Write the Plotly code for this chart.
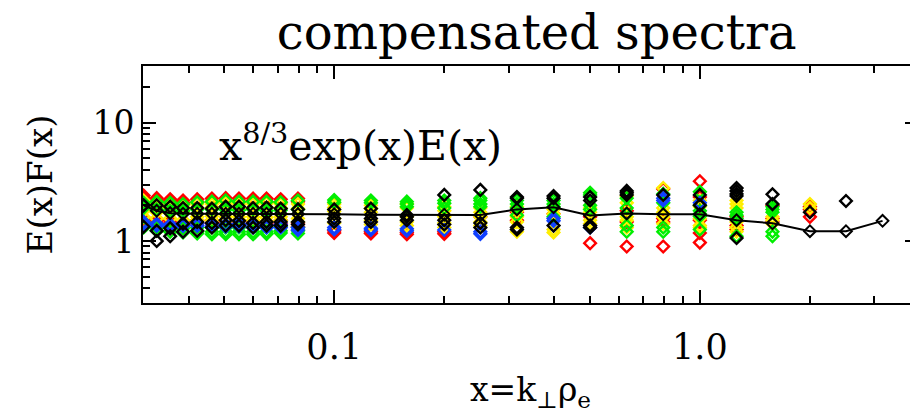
import plotly.graph_objects as go
import math

x_cols = [0.0301, 0.0327, 0.0356, 0.0386, 0.0422, 0.0463, 0.0505, 0.0549, 0.0600, 0.0653,
          0.0714, 0.0796, 0.100, 0.126, 0.158, 0.200, 0.251, 0.316, 0.398, 0.501,
          0.631, 0.794, 1.00, 1.26, 1.58, 2.00, 2.51, 3.16]

median_line = [2.0, 1.8, 1.72, 1.70, 1.70, 1.70, 1.70, 1.70, 1.70, 1.70,
               1.70, 1.69, 1.68, 1.67, 1.67, 1.67, 1.66, 1.85, 1.93, 1.64,
               1.71, 1.68, 1.68, 1.50, 1.41, 1.21, 1.21, 1.48]

red_vals = [
    [2.42, 2.3, 1.55], [2.3, 2.2, 1.5, 1.42], [2.25, 2.15, 1.48, 1.4], [2.2, 2.1, 1.45, 1.38],
    [2.25, 2.12, 1.5, 1.4], [2.28, 2.15, 1.5, 1.42], [2.3, 2.18, 1.46, 1.38], [2.28, 2.15, 1.5, 1.4],
    [2.28, 2.18, 1.48, 1.4], [2.28, 2.15, 1.45, 1.38], [2.25, 2.12, 1.5, 1.4], [2.28, 2.15, 1.42, 1.32],
    [1.22, 1.17], [1.2, 1.16], [1.18, 1.14], [1.2, 1.15],
    [1.6], [1.75, 1.5], [1.7], [1.6, 0.96],
    [1.8, 1.45, 0.9], [2.75, 1.55, 1.45, 0.9], [3.2, 2.35, 1.5, 1.17, 0.97], [1.6, 1.35, 1.25],
    [2.0, 1.55, 1.45], [1.95, 1.85, 1.6], [], [],
]

yellow_vals = [
    [2.2, 2.05, 1.8, 1.6], [2.1, 1.95, 1.75, 1.55], [2.05, 1.9, 1.72, 1.55], [2.0, 1.88, 1.75, 1.5],
    [2.05, 1.9, 1.6, 1.5], [2.05, 1.92, 1.62, 1.5], [2.1, 1.95, 1.6, 1.48], [2.05, 1.88, 1.6, 1.5],
    [2.05, 1.9, 1.6, 1.5], [2.08, 1.92, 1.58, 1.46], [2.05, 1.9, 1.6, 1.5], [2.05, 1.88, 1.55, 1.45],
    [2.05, 1.92, 1.78, 1.55, 1.42], [2.0, 1.88, 1.75, 1.5, 1.38], [2.05, 1.9, 1.6, 1.45, 1.35, 1.25],
    [1.95, 1.8, 1.6, 1.42, 1.3],
    [1.9, 1.75, 1.6, 1.45, 1.35], [1.95, 1.8, 1.6, 1.45, 1.2], [1.85, 1.7, 1.25, 1.18], [1.9, 1.75, 1.5, 1.4],
    [2.4, 2.1, 1.6, 1.5, 1.3], [2.8, 1.9, 1.75, 1.6, 1.4], [2.2, 1.95, 1.55, 1.35, 1.3],
    [2.2, 2.05, 1.9, 1.45, 1.3, 1.2],
    [1.6, 1.5, 1.4], [2.05, 1.9], [], [],
]

green_vals = [
    [2.1, 1.9, 1.45, 1.3], [2.15, 1.85, 1.3, 1.22], [2.1, 1.8, 1.3, 1.2], [2.05, 1.8, 1.28, 1.18],
    [2.12, 1.85, 1.3, 1.2, 1.16], [2.15, 1.85, 1.3, 1.2, 1.14], [2.2, 1.85, 1.3, 1.2, 1.14],
    [2.15, 1.82, 1.3, 1.2, 1.14], [2.15, 1.85, 1.32, 1.2, 1.14], [2.15, 1.8, 1.3, 1.2, 1.15],
    [2.12, 1.82, 1.32, 1.22, 1.17], [2.2, 1.85, 1.3, 1.22, 1.16],
    [2.22, 2.12], [2.2, 2.1], [2.15, 2.05, 1.95], [2.2, 2.08, 1.9],
    [2.3, 2.2, 2.05, 1.95], [2.2, 2.05, 1.9, 1.65], [2.2, 2.05, 1.95, 1.6], [2.55, 2.45, 2.0, 1.85],
    [2.3, 1.9, 1.7, 1.35, 1.2], [2.5, 2.1, 1.3, 1.2], [2.6, 2.0, 1.8, 1.7, 1.62, 1.25],
    [1.75, 1.65, 1.55, 1.1],
    [1.95, 1.85, 1.75, 1.2, 1.1], [], [], [],
]

blue_vals = [
    [1.45, 1.38], [1.4, 1.35], [1.38, 1.32], [1.4, 1.34], [1.42, 1.35], [1.4, 1.33], [1.38, 1.32],
    [1.4, 1.33], [1.38, 1.3], [1.36, 1.3], [1.38, 1.3], [1.3, 1.24],
    [1.3, 1.25], [1.28, 1.24], [1.27, 1.22], [1.24],
    [1.2, 1.15], [], [1.55, 1.48], [1.3],
    [], [2.3, 2.2], [2.1], [],
    [], [], [], [],
]

black_vals = [
    [2.0, 1.32], [2.0, 1.22, 1.0], [1.95, 1.28, 1.1], [1.9, 1.4, 1.2], [1.9, 1.45, 1.22],
    [1.88, 1.42, 1.3], [1.95, 1.5, 1.35], [1.95, 1.48, 1.35], [1.9, 1.42, 1.3], [1.92, 1.45, 1.35],
    [1.88, 1.45, 1.35], [1.85, 1.45, 1.38],
    [1.85, 1.55, 1.45], [1.88, 1.55, 1.45], [1.6, 1.5], [2.45, 1.5, 1.38],
    [2.7, 1.42, 1.3], [2.35, 2.3, 1.3, 1.25], [2.4, 2.3, 1.35], [2.35, 2.2, 1.35, 1.3],
    [2.65, 2.55, 2.45], [2.45], [2.45, 2.0], [2.8, 2.65, 2.5, 2.4, 1.06],
    [2.48, 2.05], [1.75], [2.18], [],
]

x_tick_vals = [0.1, 1.0]
x_tick_text = ["0.1", "1.0"]
y_tick_vals = [1, 10]
y_tick_text = ["1", "10"]
x_minor = [0.03, 0.04, 0.05, 0.06, 0.07, 0.08, 0.09, 0.2, 0.3, 0.4, 0.5, 0.6, 0.7, 0.8, 0.9, 2, 3]
y_minor = [0.3, 0.4, 0.5, 0.6, 0.7, 0.8, 0.9, 2, 3, 4, 5, 6, 7, 8, 9, 20, 30]

series = [
    ("red", red_vals, "#ff0000"),
    ("yellow", yellow_vals, "#ffee00"),
    ("green", green_vals, "#00ee00"),
    ("blue", blue_vals, "#1040ff"),
    ("black", black_vals, "#000000"),
]

fig = go.Figure()
for name, vals, col in series:
    xs, ys = [], []
    for xc, vs in zip(x_cols, vals):
        for v in vs:
            xs.append(xc)
            ys.append(v)
    fig.add_trace(go.Scatter(x=xs, y=ys, mode="markers", name=name,
                             marker=dict(symbol="diamond-open", size=9, color=col,
                                         line=dict(width=2.4, color=col))))

fig.add_trace(go.Scatter(x=x_cols, y=median_line, mode="lines+markers", name="median",
                         line=dict(color="black", width=2),
                         marker=dict(symbol="diamond-open", size=9, color="black",
                                     line=dict(width=2, color="black"))))

serif = "DejaVu Serif"
# page body has an 8px margin, so the figure is 8px smaller and margins shifted by 8
fig.update_layout(
    width=910, height=405,
    margin=dict(l=135, r=0, t=58, b=110, autoexpand=False),
    paper_bgcolor="white", plot_bgcolor="white",
    showlegend=False,
    font=dict(family=serif, color="black"),
    title=dict(text="compensated spectra", x=0.508, xanchor="center", y=0.94, yanchor="middle",
               xref="paper", yref="container",
               font=dict(family=serif, size=48, color="black")),
    annotations=[dict(text="x<sup>8/3</sup>exp(x)E(x)", xref="paper", yref="paper",
                      x=0.095, y=0.675, xanchor="left", yanchor="middle", showarrow=False,
                      font=dict(family=serif, size=41, color="black"))],
)
fig.update_xaxes(
    type="log", range=[math.log10(0.03), math.log10(3.95)], automargin=False,
    showline=True, linecolor="black", linewidth=2, mirror="ticks",
    ticks="inside", ticklen=13, tickwidth=1.5, tickcolor="black",
    tickmode="array", tickvals=x_tick_vals, ticktext=x_tick_text,
    tickfont=dict(family=serif, size=35), showgrid=False, zeroline=False,
    ticklabelstandoff=12,
    minor=dict(tickmode="array", tickvals=x_minor, ticks="inside", ticklen=7,
               tickwidth=1.5, tickcolor="black", showgrid=False),
    title=dict(text="x=k<sub>⊥</sub>ρ<sub>e</sub>", font=dict(family=serif, size=33), standoff=20),
)
fig.update_yaxes(
    type="log", range=[math.log10(0.3), math.log10(30)], automargin=False,
    showline=True, linecolor="black", linewidth=2, mirror="ticks",
    ticks="inside", ticklen=13, tickwidth=1.5, tickcolor="black",
    tickmode="array", tickvals=y_tick_vals, ticktext=y_tick_text,
    tickfont=dict(family=serif, size=33), showgrid=False, zeroline=False,
    minor=dict(tickmode="array", tickvals=y_minor, ticks="inside", ticklen=7,
               tickwidth=1.5, tickcolor="black", showgrid=False),
    title=dict(text="E(x)F(x)", font=dict(family=serif, size=34), standoff=30),
)

fig.write_html("out.html")
